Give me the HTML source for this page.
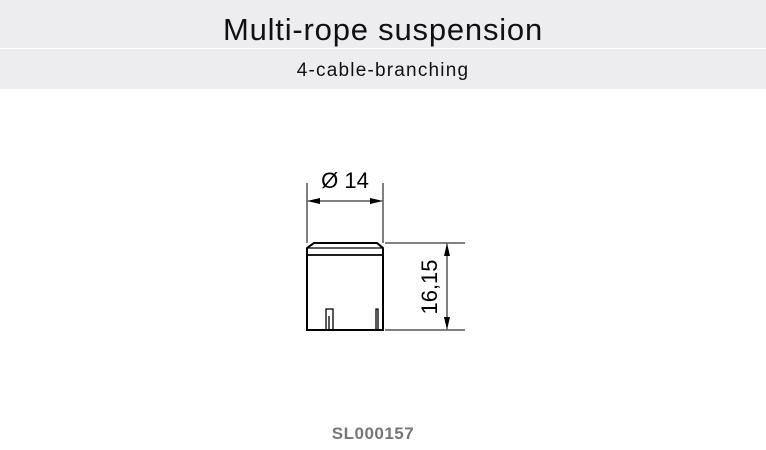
<!DOCTYPE html>
<html><head><style>
body{margin:0;width:766px;height:450px;background:#fff;font-family:"Liberation Sans","DejaVu Sans",sans-serif;overflow:hidden;position:relative}
.h1{position:absolute;left:0;top:0;width:766px;height:48px;background:#ededf0;text-align:center;font-size:31px;letter-spacing:0.8px;line-height:60px;color:#111}
.h2{position:absolute;left:0;top:49px;width:766px;height:40px;background:#ededf0;text-align:center;font-size:19px;letter-spacing:1.2px;line-height:44px;color:#111}
.code{position:absolute;left:-10px;top:424px;width:766px;text-align:center;font-size:17px;letter-spacing:0.5px;color:#777;font-weight:600}
</style></head><body>
<div class="h1">Multi-rope suspension</div>
<div class="h2">4-cable-branching</div>
<svg width="766" height="450" style="position:absolute;left:0;top:0">
<g stroke="#000" fill="none" stroke-width="1.3">
<path d="M307 330 V248 L314 243 H377 L383 248 V330 Z" stroke-width="2"/>
<line x1="308" y1="248" x2="382" y2="248"/>
<line x1="308" y1="255" x2="382" y2="255" stroke-width="1.8"/>
<path d="M326 330 V309 H333 V330 M329 316 V330"/>
<path d="M376 330 V309 H378 V330"/>
<line x1="307" y1="183" x2="307" y2="243" stroke-width="1"/>
<line x1="383" y1="183" x2="383" y2="243" stroke-width="1"/>
<line x1="308" y1="201" x2="382" y2="201" stroke-width="1"/>
<line x1="385" y1="243" x2="465" y2="243" stroke-width="1"/>
<line x1="385" y1="330" x2="465" y2="330" stroke-width="1"/>
<line x1="447" y1="244" x2="447" y2="329" stroke-width="1"/>
</g>
<g fill="#000">
<path d="M307 201 L320 198 L320 204 Z"/><path d="M383 201 L370 198 L370 204 Z"/>
<path d="M447 243 L444 256 L450 256 Z"/><path d="M447 330 L444 317 L450 317 Z"/>
</g>
<text x="345" y="188" text-anchor="middle" font-size="22" font-family="Liberation Sans,sans-serif">Ø 14</text>
<text transform="translate(437,287) rotate(-90)" text-anchor="middle" font-size="22" font-family="Liberation Sans,sans-serif">16,15</text>
</svg>
<div class="code">SL000157</div>
</body></html>
